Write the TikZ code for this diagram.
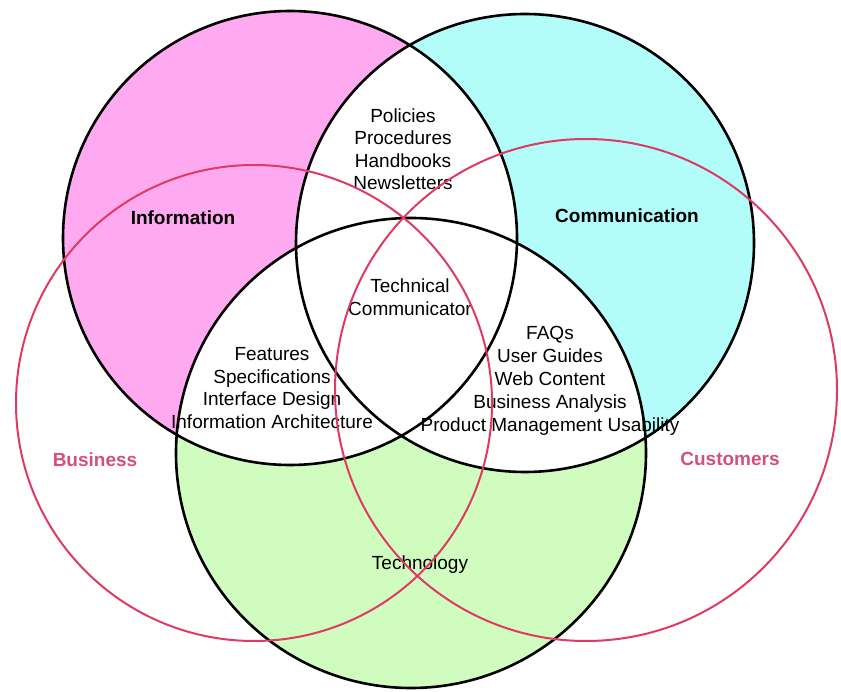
\documentclass[tikz,border=0pt]{standalone}
\usepackage{fontspec}
\setmainfont{Liberation Sans}

\definecolor{rosa}{RGB}{255,170,240}
\definecolor{tuerkis}{RGB}{178,252,250}
\definecolor{hellgruen}{RGB}{208,252,192}
\definecolor{kreisrot}{RGB}{222,58,100}
\definecolor{textrot}{RGB}{212,80,120}

\begin{document}
\begin{tikzpicture}
		[
		x=1pt, y=-1pt, font=\fontsize{19}{22.5}\selectfont,
		%Voreinstellungen fuer Kreise und Texte
		kreis/.style={line width=2.6pt, black},
		rotkreis/.style={line width=2pt, kreisrot},
		liste/.style={align=center, inner sep=0pt},
		titel/.style={inner sep=0pt, font=\fontsize{19}{22.5}\selectfont\bfseries}
		]
		
		%Rahmen
		\useasboundingbox (0,0) rectangle (841,692);
		
		%Mittelpunkte
		\coordinate (inf) at (290,238);
		\coordinate (kom) at (525,243);
		\coordinate (tec) at (411,453);
		\coordinate (bus) at (254,403);
		\coordinate (kun) at (586,390);
		
		%Flaechen
		\fill[rosa] (inf) circle (227pt);
		\fill[tuerkis] (kom) circle (229pt);
		\fill[hellgruen] (tec) circle (235pt);
		
		%Schnittflaechen weiss
		\begin{scope}
		\clip (inf) circle (227pt);
		\fill[white] (kom) circle (229pt);
		\fill[white] (tec) circle (235pt);
		\end{scope}
		\begin{scope}
		\clip (kom) circle (229pt);
		\fill[white] (tec) circle (235pt);
		\end{scope}
		
		%Beschriftungen
		\node[titel] (information) at (183,218) {Information};
		\node[titel] (communication) at (627,216) {Communication};
		\node[titel, textrot] (business) at (95,460) {Business};
		\node[titel, textrot] (customers) at (730,459) {Customers};
		\node[liste] (technology) at (420,565) {Technology};
		
		%Listen in den Schnittflaechen
		\node[liste] (policies) at (403,149) {Policies\\Procedures\\Handbooks\\Newsletters};
		\node[liste] (techcomm) at (410,297) {Technical\\Communicator};
		\node[liste] (features) at (272,388) {Features\\Specifications\\Interface Design\\Information Architecture};
		\node[liste, font=\fontsize{19}{23}\selectfont] (faqs) at (550,381) {FAQs\\User Guides\\Web Content\\Business Analysis\\Product Management Usability};
		
		%Schwarze Kreise
		\draw[kreis] (inf) circle (227pt);
		\draw[kreis] (kom) circle (229pt);
		\draw[kreis] (tec) circle (235pt);
		
		%Rote Kreise
		\draw[rotkreis] (bus) circle (238pt);
		\draw[rotkreis] (kun) circle (251pt);
	\end{tikzpicture}
\end{document}
